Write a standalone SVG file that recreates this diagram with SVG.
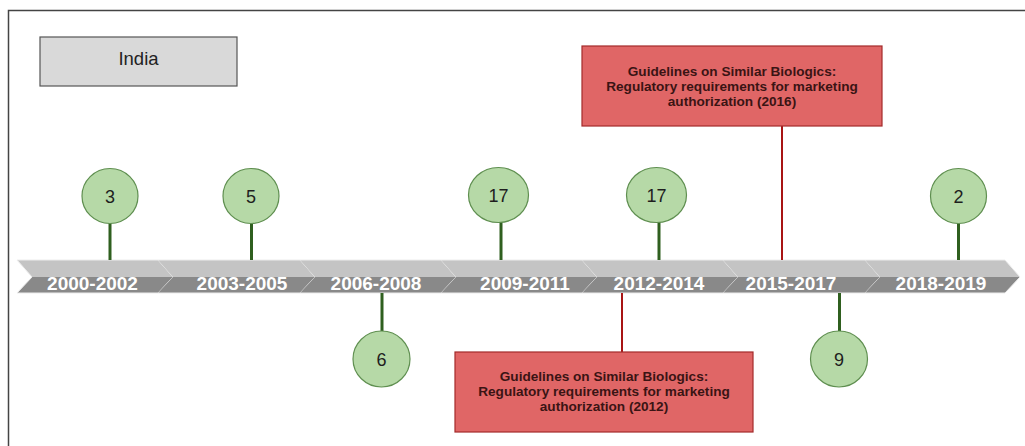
<svg xmlns="http://www.w3.org/2000/svg" width="1025" height="446" viewBox="0 0 1025 446">
  <style>
    .frame { fill: #ffffff; stroke: #444444; stroke-width: 1.5; }
    .country { fill: #d9d9d9; stroke: #555555; stroke-width: 1.2; }
    .country-text { font-family: "Liberation Sans", Arial, sans-serif; font-size: 18.5px; fill: #222222; text-anchor: middle; }
    .seg-top { fill: #c4c4c4; }
    .seg-bot { fill: #898989; }
    .seg-edge { fill: none; stroke: #ececec; stroke-width: 1; }
    .period { font-family: "Liberation Sans", Arial, sans-serif; font-size: 19px; font-weight: bold; fill: #ffffff; text-anchor: middle; }
    .count { fill: #b6d9a7; stroke: #5f8f50; stroke-width: 1.2; }
    .count-text { font-family: "Liberation Sans", Arial, sans-serif; font-size: 18px; fill: #1e1e1e; text-anchor: middle; }
    .stem { stroke: #2f5f1f; stroke-width: 3; }
    .guide { fill: #e06666; stroke: #a32a2a; stroke-width: 1.2; }
    .guide-text { font-family: "Liberation Sans", Arial, sans-serif; font-size: 13.6px; font-weight: bold; fill: #3a1414; text-anchor: middle; }
    .guide-link { stroke: #a81414; stroke-width: 2; }
  </style>

  <!-- outer frame -->
  <rect class="frame" x="8.5" y="10.5" width="1040" height="460"/>

  <!-- country label -->
  <g id="country">
    <rect class="country" x="40" y="37" width="197" height="49"/>
    <text class="country-text" x="138.5" y="65">India</text>
  </g>

  <!-- chevron timeline band -->
  <g id="timeline">
    <g id="seg-2000-2002">
      <polygon class="seg-top" points="17,260 158,260 173,277 32,277"/>
      <polygon class="seg-bot" points="32,277 173,277 158,293 17,293"/>
      <polyline class="seg-edge" points="158,260 173,277 158,293"/>
      <text class="period" x="92.5" y="290">2000-2002</text>
    </g>
    <g id="seg-2003-2005">
      <polygon class="seg-top" points="158,260 300,260 315,277 173,277"/>
      <polygon class="seg-bot" points="173,277 315,277 300,293 158,293"/>
      <polyline class="seg-edge" points="300,260 315,277 300,293"/>
      <text class="period" x="242" y="290">2003-2005</text>
    </g>
    <g id="seg-2006-2008">
      <polygon class="seg-top" points="300,260 441,260 456,277 315,277"/>
      <polygon class="seg-bot" points="315,277 456,277 441,293 300,293"/>
      <polyline class="seg-edge" points="441,260 456,277 441,293"/>
      <text class="period" x="376" y="290">2006-2008</text>
    </g>
    <g id="seg-2009-2011">
      <polygon class="seg-top" points="441,260 582,260 597,277 456,277"/>
      <polygon class="seg-bot" points="456,277 597,277 582,293 441,293"/>
      <polyline class="seg-edge" points="582,260 597,277 582,293"/>
      <text class="period" x="525" y="290">2009-2011</text>
    </g>
    <g id="seg-2012-2014">
      <polygon class="seg-top" points="582,260 723,260 738,277 597,277"/>
      <polygon class="seg-bot" points="597,277 738,277 723,293 582,293"/>
      <polyline class="seg-edge" points="723,260 738,277 723,293"/>
      <text class="period" x="659" y="290">2012-2014</text>
    </g>
    <g id="seg-2015-2017">
      <polygon class="seg-top" points="723,260 865,260 880,277 738,277"/>
      <polygon class="seg-bot" points="738,277 880,277 865,293 723,293"/>
      <polyline class="seg-edge" points="865,260 880,277 865,293"/>
      <text class="period" x="791" y="290">2015-2017</text>
    </g>
    <g id="seg-2018-2019">
      <polygon class="seg-top" points="865,260 1005,260 1020,277 880,277"/>
      <polygon class="seg-bot" points="880,277 1020,277 1005,293 865,293"/>
      <text class="period" x="941" y="290">2018-2019</text>
    </g>
    <polyline class="seg-edge" points="17,260 1005,260 1020,277 1005,293 17,293 32,277 17,260"/>
  </g>

  <!-- connectors: stems and guideline links -->
  <g id="connectors">
    <line class="stem" x1="110" y1="223" x2="110" y2="260"/>
    <line class="stem" x1="251.5" y1="223" x2="251.5" y2="260"/>
    <line class="stem" x1="501" y1="222" x2="501" y2="260"/>
    <line class="stem" x1="659" y1="222" x2="659" y2="260"/>
    <line class="stem" x1="958.5" y1="223" x2="958.5" y2="260"/>
    <line class="stem" x1="382" y1="293" x2="382" y2="331"/>
    <line class="stem" x1="839.5" y1="293" x2="839.5" y2="331"/>
    <line class="guide-link" x1="782" y1="126" x2="782" y2="260"/>
    <line class="guide-link" x1="622" y1="293" x2="622" y2="352"/>
  </g>

  <!-- counts per period -->
  <g id="count-2000-2002">
    <ellipse class="count" cx="110" cy="196" rx="28" ry="27.5"/>
    <text class="count-text" x="110" y="202.5">3</text>
  </g>
  <g id="count-2003-2005">
    <ellipse class="count" cx="251" cy="196" rx="28" ry="27.5"/>
    <text class="count-text" x="251" y="202.5">5</text>
  </g>
  <g id="count-2006-2008">
    <ellipse class="count" cx="381.5" cy="359" rx="28.5" ry="28"/>
    <text class="count-text" x="381.5" y="365.5">6</text>
  </g>
  <g id="count-2009-2011">
    <ellipse class="count" cx="498.5" cy="195" rx="30" ry="27.5"/>
    <text class="count-text" x="498.5" y="201.5">17</text>
  </g>
  <g id="count-2012-2014">
    <ellipse class="count" cx="656.5" cy="195" rx="30" ry="27.5"/>
    <text class="count-text" x="656.5" y="201.5">17</text>
  </g>
  <g id="count-2015-2017">
    <ellipse class="count" cx="839" cy="359" rx="28.5" ry="28"/>
    <text class="count-text" x="839" y="365.5">9</text>
  </g>
  <g id="count-2018-2019">
    <ellipse class="count" cx="958.5" cy="196" rx="28" ry="27.5"/>
    <text class="count-text" x="958.5" y="202.5">2</text>
  </g>

  <!-- guideline milestones -->
  <g id="guideline-2016">
    <rect class="guide" x="582" y="46" width="300" height="80"/>
    <text class="guide-text" x="732" y="76">Guidelines on Similar Biologics:</text>
    <text class="guide-text" x="732" y="91">Regulatory requirements for marketing</text>
    <text class="guide-text" x="732" y="105.5">authorization (2016)</text>
  </g>
  <g id="guideline-2012">
    <rect class="guide" x="455" y="352" width="298" height="80"/>
    <text class="guide-text" x="604" y="381">Guidelines on Similar Biologics:</text>
    <text class="guide-text" x="604" y="396">Regulatory requirements for marketing</text>
    <text class="guide-text" x="604" y="411">authorization (2012)</text>
  </g>
</svg>
